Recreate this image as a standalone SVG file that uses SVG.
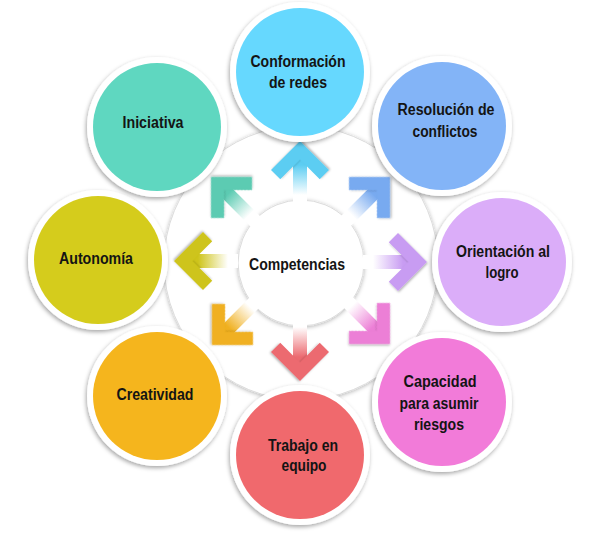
<svg xmlns="http://www.w3.org/2000/svg" xmlns:xlink="http://www.w3.org/1999/xlink" width="600" height="533" viewBox="0 0 600 533">
  <style>
    .lbl { font-family: "Liberation Sans", Arial, sans-serif; font-weight: bold; font-size: 16px; fill: #141414; text-anchor: middle; }
    .rim { fill: #ffffff; filter: url(#sh); }
    .disc { fill: #ffffff; stroke: #dcdcdc; stroke-width: 1; filter: url(#shSoft); }
  </style>
  <defs>
    <filter id="sh" x="-20%" y="-20%" width="140%" height="140%">
      <feDropShadow dx="-1" dy="2" stdDeviation="2" flood-color="#000" flood-opacity="0.35"/>
    </filter>
    <filter id="shSoft" x="-20%" y="-20%" width="140%" height="140%">
      <feDropShadow dx="0" dy="1" stdDeviation="2" flood-color="#000" flood-opacity="0.3"/>
    </filter>
    <filter id="ash" x="-30%" y="-30%" width="160%" height="160%">
      <feDropShadow dx="0.8" dy="1.2" stdDeviation="0.8" flood-color="#000" flood-opacity="0.3"/>
    </filter>
    <path id="chev" d="M0,0 L-29,-29 L-38.2,-19.8 L-18.4,0 L-38.2,19.8 L-29,29 Z"/>
    <rect id="shaft" x="-64" y="-7" width="50" height="14"/>
    <linearGradient id="gPur"><stop offset="0" stop-color="#ffffff"/><stop offset="0.2" stop-color="#ffffff"/><stop offset="0.8" stop-color="#c89cf2"/></linearGradient>
    <linearGradient id="gPink"><stop offset="0" stop-color="#ffffff"/><stop offset="0.2" stop-color="#ffffff"/><stop offset="0.8" stop-color="#ec7fd6"/></linearGradient>
    <linearGradient id="gRed"><stop offset="0" stop-color="#ffffff"/><stop offset="0.2" stop-color="#ffffff"/><stop offset="0.8" stop-color="#ec6a70"/></linearGradient>
    <linearGradient id="gOr"><stop offset="0" stop-color="#ffffff"/><stop offset="0.2" stop-color="#ffffff"/><stop offset="0.8" stop-color="#f0b020"/></linearGradient>
    <linearGradient id="gOl"><stop offset="0" stop-color="#ffffff"/><stop offset="0.2" stop-color="#ffffff"/><stop offset="0.8" stop-color="#cec41a"/></linearGradient>
    <linearGradient id="gTeal"><stop offset="0" stop-color="#ffffff"/><stop offset="0.2" stop-color="#ffffff"/><stop offset="0.8" stop-color="#5ccbb2"/></linearGradient>
    <linearGradient id="gCyan"><stop offset="0" stop-color="#ffffff"/><stop offset="0.2" stop-color="#ffffff"/><stop offset="0.8" stop-color="#5ccdf2"/></linearGradient>
    <linearGradient id="gBlue"><stop offset="0" stop-color="#ffffff"/><stop offset="0.2" stop-color="#ffffff"/><stop offset="0.8" stop-color="#78aaf0"/></linearGradient>
  </defs>

  <rect width="600" height="533" fill="#ffffff"/>

  <g id="background">
    <circle class="disc" cx="301" cy="263" r="137"/>
  </g>

  <g id="node-competencias">
    <circle class="disc" cx="301" cy="263" r="63"/>
  </g>

  <g id="connectors">
    <g transform="translate(427,262) rotate(0)">
      <use xlink:href="#shaft" href="#shaft" fill="url(#gPur)"/>
      <use xlink:href="#chev" href="#chev" fill="#c89cf2" filter="url(#ash)"/>
    </g>
    <g transform="translate(390,344) rotate(45)">
      <use xlink:href="#shaft" href="#shaft" fill="url(#gPink)"/>
      <use xlink:href="#chev" href="#chev" fill="#ec7fd6" filter="url(#ash)"/>
    </g>
    <g transform="translate(300,381) rotate(90)">
      <use xlink:href="#shaft" href="#shaft" fill="url(#gRed)"/>
      <use xlink:href="#chev" href="#chev" fill="#ec6a70" filter="url(#ash)"/>
    </g>
    <g transform="translate(212,345) rotate(135)">
      <use xlink:href="#shaft" href="#shaft" fill="url(#gOr)"/>
      <use xlink:href="#chev" href="#chev" fill="#f0b020" filter="url(#ash)"/>
    </g>
    <g transform="translate(174,261) rotate(180)">
      <use xlink:href="#shaft" href="#shaft" fill="url(#gOl)"/>
      <use xlink:href="#chev" href="#chev" fill="#cec41a" filter="url(#ash)"/>
    </g>
    <g transform="translate(211,177) rotate(225)">
      <use xlink:href="#shaft" href="#shaft" fill="url(#gTeal)"/>
      <use xlink:href="#chev" href="#chev" fill="#5ccbb2" filter="url(#ash)"/>
    </g>
    <g transform="translate(300,141) rotate(270)">
      <use xlink:href="#shaft" href="#shaft" fill="url(#gCyan)"/>
      <use xlink:href="#chev" href="#chev" fill="#5ccdf2" filter="url(#ash)"/>
    </g>
    <g transform="translate(390,177) rotate(315)">
      <use xlink:href="#shaft" href="#shaft" fill="url(#gBlue)"/>
      <use xlink:href="#chev" href="#chev" fill="#78aaf0" filter="url(#ash)"/>
    </g>
  </g>

  <g id="node-competencias-label">
    <text class="lbl" x="297" y="270" textLength="96" lengthAdjust="spacingAndGlyphs">Competencias</text>
  </g>

  <g id="node-conformacion">
    <circle class="rim" cx="300" cy="72" r="70"/>
    <circle cx="300" cy="72" r="64" fill="#66d8fe"/>
    <text class="lbl" x="298" y="67" textLength="95" lengthAdjust="spacingAndGlyphs">Conformación</text>
    <text class="lbl" x="298" y="88" textLength="58" lengthAdjust="spacingAndGlyphs">de redes</text>
  </g>

  <g id="node-resolucion">
    <circle class="rim" cx="442" cy="126" r="70"/>
    <circle cx="442" cy="126" r="64" fill="#83b4f7"/>
    <text class="lbl" x="446" y="115" textLength="97" lengthAdjust="spacingAndGlyphs">Resolución de</text>
    <text class="lbl" x="445" y="137" textLength="65" lengthAdjust="spacingAndGlyphs">conflictos</text>
  </g>

  <g id="node-orientacion">
    <circle class="rim" cx="502" cy="262" r="70"/>
    <circle cx="502" cy="262" r="64" fill="#dbadf9"/>
    <text class="lbl" x="503" y="257" textLength="94" lengthAdjust="spacingAndGlyphs">Orientación al</text>
    <text class="lbl" x="502" y="278" textLength="33" lengthAdjust="spacingAndGlyphs">logro</text>
  </g>

  <g id="node-capacidad">
    <circle class="rim" cx="442" cy="402" r="70"/>
    <circle cx="442" cy="402" r="64" fill="#f27bd9"/>
    <text class="lbl" x="440" y="387" textLength="73" lengthAdjust="spacingAndGlyphs">Capacidad</text>
    <text class="lbl" x="439" y="409" textLength="79" lengthAdjust="spacingAndGlyphs">para asumir</text>
    <text class="lbl" x="439" y="430" textLength="50" lengthAdjust="spacingAndGlyphs">riesgos</text>
  </g>

  <g id="node-trabajo">
    <circle class="rim" cx="300" cy="455" r="70"/>
    <circle cx="300" cy="455" r="64" fill="#f0696d"/>
    <text class="lbl" x="303" y="451" textLength="70" lengthAdjust="spacingAndGlyphs">Trabajo en</text>
    <text class="lbl" x="304" y="471" textLength="45" lengthAdjust="spacingAndGlyphs">equipo</text>
  </g>

  <g id="node-creatividad">
    <circle class="rim" cx="157" cy="396" r="70"/>
    <circle cx="157" cy="396" r="64" fill="#f5b51d"/>
    <text class="lbl" x="155" y="400" textLength="77" lengthAdjust="spacingAndGlyphs">Creatividad</text>
  </g>

  <g id="node-autonomia">
    <circle class="rim" cx="98" cy="260" r="70"/>
    <circle cx="98" cy="260" r="64" fill="#d5cc1c"/>
    <text class="lbl" x="96" y="264" textLength="74" lengthAdjust="spacingAndGlyphs">Autonomía</text>
  </g>

  <g id="node-iniciativa">
    <circle class="rim" cx="157" cy="127" r="70"/>
    <circle cx="157" cy="127" r="64" fill="#5fd7c0"/>
    <text class="lbl" x="153" y="128" textLength="61" lengthAdjust="spacingAndGlyphs">Iniciativa</text>
  </g>
</svg>
